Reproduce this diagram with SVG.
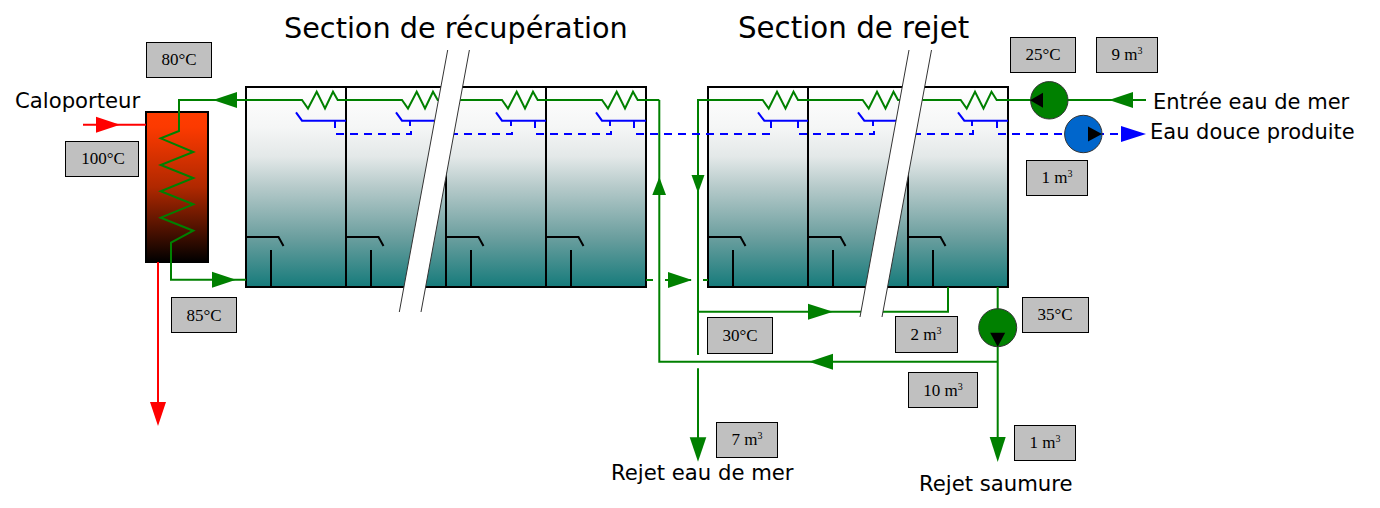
<svg xmlns="http://www.w3.org/2000/svg" width="1380" height="508" viewBox="0 0 1380 508">
<style>
.sec{font-family:"DejaVu Sans",sans-serif;font-size:28.7px;fill:#000}
.lab{font-family:"DejaVu Sans",sans-serif;font-size:21.2px;fill:#000}
.val{font-family:"Liberation Serif",serif;font-size:17px;fill:#000;text-anchor:middle}
.val tspan{font-size:10px}
.box{fill:#c0c0c0;stroke:#000;stroke-width:1}
.tank{fill:url(#tg);stroke:#000;stroke-width:2}
.in{fill:none;stroke:#000;stroke-width:2}
.g{fill:none;stroke:#008000;stroke-width:2}
.gut{fill:none;stroke:#0000ff;stroke-width:2}
.dash{fill:none;stroke:#0000ff;stroke-width:2;stroke-dasharray:8 6}
.red{fill:none;stroke:#ff0000;stroke-width:2}
.ga{fill:#008000}.ra{fill:#ff0000}.ba{fill:#0000ff}.ka{fill:#000}
.pump{stroke:#333;stroke-width:1}
.cut{fill:#fff}
.cl{stroke:#333;stroke-width:1;fill:none}
</style>
<defs>
<linearGradient id="tg" x1="0" y1="0" x2="0" y2="1">
<stop offset="0" stop-color="#ffffff"/><stop offset="0.2" stop-color="#f5f6f6"/><stop offset="0.35" stop-color="#e3e8e8"/><stop offset="0.5" stop-color="#b6caca"/><stop offset="0.75" stop-color="#6c9f9f"/><stop offset="1" stop-color="#167b7b"/>
</linearGradient>
<linearGradient id="hg" x1="0" y1="0" x2="0" y2="1">
<stop offset="0" stop-color="#ff3c00"/><stop offset="0.1" stop-color="#fc3a00"/><stop offset="0.5" stop-color="#b02800"/><stop offset="0.8" stop-color="#481000"/><stop offset="1" stop-color="#000000"/>
</linearGradient>
<g id="baffle"><path class="in" d="M0 150H32.500L37.500 159"/><path class="in" d="M25 163V200"/></g>
</defs>

<g id="heater"><rect x="146" y="112" width="62" height="150" fill="url(#hg)" stroke="#000" stroke-width="2"/></g>

<g id="tank-1"><rect class="tank" x="246" y="87" width="100" height="200"/><use href="#baffle" x="246" y="87"/></g>
<g id="tank-2"><rect class="tank" x="346" y="87" width="100" height="200"/><use href="#baffle" x="346" y="87"/></g>
<g id="tank-3"><rect class="tank" x="446" y="87" width="100" height="200"/><use href="#baffle" x="446" y="87"/></g>
<g id="tank-4"><rect class="tank" x="546" y="87" width="100" height="200"/><use href="#baffle" x="546" y="87"/></g>
<g id="tank-5"><rect class="tank" x="708" y="87" width="100" height="200"/><use href="#baffle" x="708" y="87"/></g>
<g id="tank-6"><rect class="tank" x="808" y="87" width="100" height="200"/><use href="#baffle" x="808" y="87"/></g>
<g id="tank-7"><rect class="tank" x="908" y="87" width="100" height="200"/><use href="#baffle" x="908" y="87"/></g>

<g id="connectors">
<path class="red" d="M83 124.700H146"/><path class="ra" d="M96 116.700L120 124.700L96 132.700Z"/>
<path class="red" d="M158 262V404"/><path class="ra" d="M150 402H166L158 426Z"/>

<path class="g" d="M659.300 100H637.700L633 91.700L625 108.500L616.700 91.700L608 108.500L602 100H537.700L533 91.700L525 108.500L516.700 91.700L508 108.500L502 100H437.700L433 91.700L425 108.500L416.700 91.700L408 108.500L402 100H337.700L333 91.700L325 108.500L316.700 91.700L308 108.500L302 100H179V131L160.700 138.300L193.300 152L160.700 165L193.300 178L160.700 191.300L193.300 204.300L160.700 217.700L193.300 230.700L171 242.700V279.700H246"/>
<path class="ga" d="M237 92V108L213 100Z"/>
<path class="ga" d="M212 271.700V287.700L236 279.700Z"/>

<path class="g" d="M659.300 100V361.700H997.700"/>
<path class="ga" d="M659.300 177L666 195H652.300Z"/>
<path class="ga" d="M833 353.700V369.700L809 361.700Z"/>

<path class="g" d="M646 280H708" stroke-dasharray="7 12"/>
<path class="ga" d="M668 272V288L692 280Z"/>

<path class="g" d="M1031 100H996.700L991.500 91.700L983.500 108.500L975 91.700L966.700 108.500L960.700 100H898L893.500 91.700L885.500 108.500L877 91.700L868.700 108.500L862.700 100H798L793.500 91.700L785.500 108.500L777 91.700L768.700 108.500L762.700 100H698V355M698 368.300V440"/>
<path class="g" d="M1068 100H1146"/>
<path class="ga" d="M1133 92V108L1109 100Z"/>
<path class="ga" d="M691.500 175H704.500L698 193Z"/>
<path class="ga" d="M689.700 437.300H706.300L698 461.700Z"/>
<path class="g" d="M698 311.700H948V287"/>
<path class="ga" d="M808 303.700V319.700L833 311.700Z"/>
<path class="g" d="M997.700 287V310M997.700 345V440"/>
<path class="ga" d="M989.700 437H1005.700L997.700 462Z"/>

<path class="gut" d="M296 112.300L302 120.700H346M335 120.700V128"/>
<path class="gut" d="M396 112.300L402 120.700H446M410 120.700V126"/>
<path class="gut" d="M496 112.300L502 120.700H546M511 120.700V126M535 120.700V128"/>
<path class="gut" d="M596 112.300L602 120.700H646M610 120.700V126M634 120.700V128"/>
<path class="gut" d="M758 112.300L764.300 120.700H808M771 120.700V128M798 120.700V128"/>
<path class="gut" d="M858 112.300L864.300 120.700H908M873 120.700V126"/>
<path class="gut" d="M958 112.300L964.300 120.700H1008M972 120.700V126M997 120.700V128"/>
<path class="dash" d="M336 134H411V126"/>
<path class="dash" d="M436 134H512V126"/>
<path class="dash" d="M536 134H611V126"/>
<path class="dash" d="M636 134H771"/>
<path class="dash" d="M799 134H874V126"/>
<path class="dash" d="M899 134H973V126"/>
<path class="dash" d="M998 134H1121"/>
<path class="ba" d="M1121 126V142L1146 134Z"/>
</g>

<g id="cut-1"><path class="cut" d="M447.700 50H469.400L421 312H399.300Z"/><path class="cl" d="M447.700 50L399.300 312M469.400 50L421 312"/></g>
<g id="cut-2"><path class="cut" d="M909 50H931.500L882 317H860Z"/><path class="cl" d="M909 50L860 317M931.500 50L882 317"/></g>

<g id="pump-sea"><circle class="pump" cx="1049.300" cy="100.300" r="18.700" fill="#008000"/><path class="ka" d="M1043 92.800V107.800L1030 100.300Z"/></g>
<g id="pump-fresh"><circle class="pump" cx="1083.300" cy="134" r="18.700" fill="#0066cc"/><path class="ka" d="M1088 126.500V141.500L1102 134Z"/></g>
<g id="pump-brine"><circle class="pump" cx="997.700" cy="327.700" r="19" fill="#008000"/><path class="ka" d="M990.200 332.700H1005.200L997.700 346.700Z"/></g>

<g id="titles">
<text class="sec" x="284" y="38">Section de récupération</text>
<text class="sec" x="738" y="38" style="font-size:29.3px">Section de rejet</text>
<text class="lab" x="15" y="108">Caloporteur</text>
<text class="lab" x="1153" y="109" style="font-size:21px">Entrée eau de mer</text>
<text class="lab" x="1150" y="139" style="font-size:21px">Eau douce produite</text>
<text class="lab" x="611" y="480">Rejet eau de mer</text>
<text class="lab" x="919" y="491">Rejet saumure</text>
</g>

<g id="val-80"><rect class="box" x="146.500" y="42.500" width="65" height="35"/><text class="val" x="179" y="65">80°C</text></g>
<g id="val-100"><rect class="box" x="65.500" y="141.500" width="73" height="35"/><text class="val" x="103" y="164">100°C</text></g>
<g id="val-85"><rect class="box" x="171.500" y="297.500" width="65" height="35"/><text class="val" x="204" y="321">85°C</text></g>
<g id="val-30"><rect class="box" x="707.500" y="317.500" width="65" height="36"/><text class="val" x="740" y="341">30°C</text></g>
<g id="val-2m"><rect class="box" x="895.500" y="316.500" width="62" height="36"/><text class="val" x="926" y="340">2 m<tspan dy="-6">3</tspan></text></g>
<g id="val-25"><rect class="box" x="1010.500" y="37.500" width="65" height="35"/><text class="val" x="1043" y="60">25°C</text></g>
<g id="val-9m"><rect class="box" x="1096.500" y="37.500" width="61" height="35"/><text class="val" x="1127" y="60">9 m<tspan dy="-6">3</tspan></text></g>
<g id="val-1m-a"><rect class="box" x="1026.500" y="160.500" width="61" height="35"/><text class="val" x="1057" y="183">1 m<tspan dy="-6">3</tspan></text></g>
<g id="val-35"><rect class="box" x="1022.500" y="297.500" width="66" height="35"/><text class="val" x="1055" y="320">35°C</text></g>
<g id="val-10m"><rect class="box" x="908.500" y="372.500" width="69" height="35"/><text class="val" x="943" y="396">10 m<tspan dy="-6">3</tspan></text></g>
<g id="val-1m-b"><rect class="box" x="1014.500" y="425.500" width="61" height="35"/><text class="val" x="1045" y="448">1 m<tspan dy="-6">3</tspan></text></g>
<g id="val-7m"><rect class="box" x="716.500" y="422.500" width="61" height="35"/><text class="val" x="747" y="445">7 m<tspan dy="-6">3</tspan></text></g>
</svg>
